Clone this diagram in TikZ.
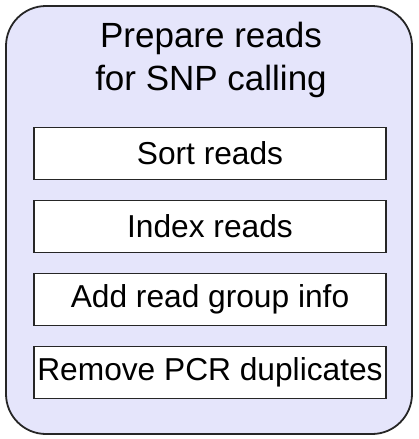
\documentclass[tikz,border=0pt]{standalone}
\usepackage{fontspec}
\setmainfont{Liberation Sans}
\definecolor{lav}{HTML}{E5E5FB}
\begin{document}
\begin{tikzpicture}[x=1pt,y=-1pt,
  stepbox/.style={draw=black!85,line width=1.6pt,fill=white,minimum width=352pt,minimum height=52pt,inner sep=0pt,font=\fontsize{31.7}{36}\selectfont},
  outer/.style={draw=black!85,line width=1.8pt,fill=lav,rounded corners=40pt}]
\useasboundingbox (0,0) rectangle (418,439);
\draw[outer] (6,6) rectangle (412,434);
\node[font=\fontsize{35}{43}\selectfont,align=center,anchor=center] (title) at (211,60) {Prepare reads\\for SNP calling};
\node[stepbox] (s1) at (210,153.5) {Sort reads};
\node[stepbox] (s2) at (210,226.5) {Index reads};
\node[stepbox] (s3) at (210,299.5) {Add read group info};
\node[stepbox] (s4) at (210,372.5) {Remove PCR duplicates};
\end{tikzpicture}
\end{document}
